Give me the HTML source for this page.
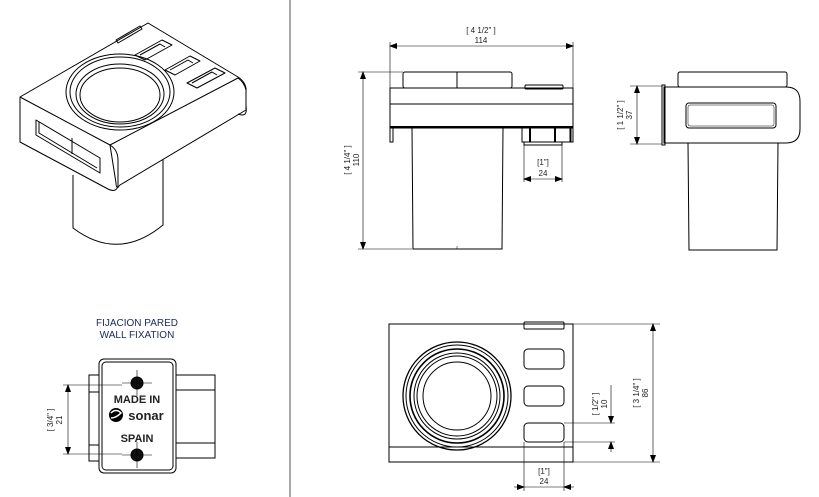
<!DOCTYPE html>
<html><head><meta charset="utf-8"><style>
html,body{margin:0;padding:0;background:#fff}
svg{display:block}
text{font-family:"Liberation Sans",sans-serif;fill:#222}
</style></head><body>
<svg width="819" height="497" viewBox="0 0 819 497" xmlns="http://www.w3.org/2000/svg">
<defs>
<marker id="a" markerWidth="8" markerHeight="6" refX="7" refY="3" orient="auto" markerUnits="userSpaceOnUse"><path d="M0,0 L8,3 L0,6 z" fill="#000"/></marker>
<marker id="b" markerWidth="8" markerHeight="6" refX="1" refY="3" orient="auto" markerUnits="userSpaceOnUse"><path d="M8,0 L0,3 L8,6 z" fill="#000"/></marker>
</defs>
<line x1="290" y1="0" x2="290" y2="497" stroke="#555" stroke-width="1"/>

<!-- ISO VIEW -->
<g fill="none" stroke="#000" stroke-width="1" stroke-linejoin="round">
<path d="M73,175 L73,228 Q118,262 163,225 L163,155" fill="#fff"/>
<path d="M20,97 L148,23 L238,77 Q247,83 246,92 L246,110 L120,185 Q116,190 116,183 L110,145 Z" fill="#fff"/>
<path d="M20,97 L20,142 L108,189 Q116,193 118,186"/>
<path d="M110,145 L238,78 Q244,82 246,90"/>
<path d="M110,145 Q118,150 118,160 L118,188"/>
<path d="M36,120 L36,135 L100,173 L100,158 Z"/>
<path d="M39,122 L39,133 L97,168"/>
<line x1="72" y1="138" x2="72" y2="154"/>
<ellipse cx="120" cy="92" rx="54" ry="38"/>
<ellipse cx="120" cy="92" rx="50" ry="35"/>
<ellipse cx="120" cy="94" rx="44" ry="30"/>
<ellipse cx="120" cy="95" rx="40" ry="27"/>
<path d="M116,40 L140,26 L142,29 L118,43 Z"/>
<path d="M135,55 L162,40 L172,45 L145,60 Z"/><path d="M140,55 L160,44 L165,47"/>
<path d="M165,70 L190,56 L200,61 L175,75 Z"/><path d="M170,70 L188,60 L193,63"/>
<path d="M187,83 L215,68 L225,73 L197,88 Z"/><path d="M192,83 L212,72 L217,75"/>
<path d="M238,114 Q248,118 246,106"/>
</g>

<!-- FRONT VIEW -->
<g fill="none" stroke="#000" stroke-width="1">
<rect x="403" y="72" width="109" height="16" rx="2"/>
<line x1="457" y1="72" x2="457" y2="88"/>
<rect x="525" y="85" width="38" height="4" rx="1"/>
<rect x="390" y="88" width="183" height="40"/>
<line x1="390" y1="104" x2="573" y2="104"/>
<line x1="390" y1="127" x2="573" y2="127" stroke-width="2"/>
<rect x="390" y="128" width="3" height="14"/>
<rect x="570" y="128" width="3" height="14"/>
<path d="M522,128 L522,142 L571,142 L571,128"/>
<line x1="530" y1="128" x2="530" y2="142" stroke-width="2"/>
<line x1="555" y1="128" x2="555" y2="142" stroke-width="2"/>
<rect x="524" y="142" width="38" height="3"/>
<path d="M412,128 L413,249 L502,249 L503,128"/>
<line x1="457" y1="246" x2="457" y2="249" stroke-width="0.5"/>
</g>
<g stroke="#000" stroke-width="0.6" fill="none">
<line x1="390" y1="46" x2="573" y2="46" marker-start="url(#b)" marker-end="url(#a)"/>
<line x1="390" y1="42" x2="390" y2="88"/><line x1="573" y1="42" x2="573" y2="88"/>
<line x1="363" y1="72" x2="363" y2="249" marker-start="url(#b)" marker-end="url(#a)"/>
<line x1="358" y1="72" x2="403" y2="72"/><line x1="358" y1="249" x2="412" y2="249"/>
<line x1="524" y1="179" x2="562" y2="179" marker-start="url(#b)" marker-end="url(#a)"/>
<line x1="524" y1="145" x2="524" y2="182"/><line x1="562" y1="145" x2="562" y2="182"/>
</g>
<g font-size="8" text-anchor="middle">
<text x="481" y="33">[ 4 1/2" ]</text><text x="481" y="43">114</text>
<text x="543" y="165">[1"]</text><text x="543" y="176">24</text>
<text transform="translate(350,160) rotate(-90)">[ 4 1/4" ]</text>
<text transform="translate(359,160) rotate(-90)">110</text>
</g>

<!-- SIDE VIEW -->
<g fill="none" stroke="#000" stroke-width="1">
<rect x="678" y="72" width="109" height="15" rx="2"/>
<path d="M664,87 L786,87 Q800,87 800,101 L800,129 Q800,143 786,143 L664,143 Z"/>
<rect x="662" y="85" width="3" height="60"/>
<rect x="686" y="103" width="90" height="25" rx="3"/>
<rect x="688" y="105" width="86" height="21" rx="2" stroke-width="0.5"/>
<path d="M688,143 L689,250 L777,250 L778,143"/>
</g>
<g stroke="#000" stroke-width="0.6" fill="none">
<line x1="637" y1="86" x2="637" y2="144" marker-start="url(#b)" marker-end="url(#a)"/>
<line x1="630" y1="86" x2="662" y2="86"/><line x1="630" y1="144" x2="662" y2="144"/>
</g>
<g font-size="8" text-anchor="middle">
<text transform="translate(623,115) rotate(-90)">[ 1 1/2" ]</text>
<text transform="translate(632,115) rotate(-90)">37</text>
</g>

<!-- WALL FIXATION -->
<text x="137" y="326" font-size="10" text-anchor="middle" style="fill:#1a2a5a">FIJACION PARED</text>
<text x="137" y="338" font-size="10" text-anchor="middle" style="fill:#1a2a5a">WALL FIXATION</text>
<g fill="none" stroke="#000" stroke-width="1">
<rect x="89" y="375" width="10" height="86"/>
<line x1="89" y1="392" x2="99" y2="392"/><line x1="89" y1="445" x2="99" y2="445"/>
<rect x="176" y="375" width="39" height="83"/>
<line x1="176" y1="390" x2="215" y2="390"/><line x1="176" y1="443" x2="215" y2="443"/>
<rect x="99" y="359" width="77" height="114" rx="5" fill="#fff"/>
<rect x="102" y="362" width="71" height="108" rx="4"/>
<circle cx="137" cy="383" r="6" fill="#111"/><circle cx="137" cy="455" r="6" fill="#111"/>
<line x1="137" y1="370" x2="137" y2="396" stroke-width="0.6"/>
<line x1="122" y1="383" x2="152" y2="383" stroke-width="0.6"/>
<line x1="137" y1="442" x2="137" y2="468" stroke-width="0.6"/>
<line x1="122" y1="455" x2="152" y2="455" stroke-width="0.6"/>
</g>
<g font-weight="bold" text-anchor="middle">
<text x="137" y="403" font-size="11">MADE IN</text>
<text x="146" y="420" font-size="13">sonar</text>
<text x="137" y="442" font-size="11">SPAIN</text>
</g>
<circle cx="116" cy="415" r="7" fill="#000"/>
<path d="M111,413 Q116,408 121,413 Q116,418 111,418" stroke="#fff" stroke-width="1.5" fill="none"/>
<g stroke="#000" stroke-width="0.6" fill="none">
<line x1="68" y1="385" x2="68" y2="454" marker-start="url(#b)" marker-end="url(#a)"/>
<line x1="63" y1="385" x2="122" y2="385"/><line x1="63" y1="454" x2="122" y2="454"/>
</g>
<g font-size="8" text-anchor="middle">
<text transform="translate(53,420) rotate(-90)">[ 3/4" ]</text>
<text transform="translate(62,420) rotate(-90)">21</text>
</g>

<!-- TOP VIEW -->
<g fill="none" stroke="#000" stroke-width="1">
<rect x="389" y="324" width="184" height="138"/>
<line x1="389" y1="447" x2="573" y2="447"/>
<rect x="524" y="322" width="40" height="7" rx="1"/>
<rect x="524" y="349" width="40" height="20" rx="4"/>
<rect x="524" y="386" width="40" height="20" rx="4"/>
<rect x="524" y="423" width="40" height="19" rx="4"/>
<circle cx="457" cy="396" r="54" stroke-width="1.3"/>
<circle cx="457" cy="396" r="51"/>
<circle cx="457" cy="396" r="47" stroke-width="1.6"/>
<circle cx="457" cy="396" r="43"/>
<circle cx="457" cy="396" r="40"/>
<circle cx="457" cy="396" r="34"/>
</g>
<g stroke="#000" stroke-width="0.6" fill="none">
<line x1="653" y1="324" x2="653" y2="462" marker-start="url(#b)" marker-end="url(#a)"/>
<line x1="573" y1="324" x2="660" y2="324"/><line x1="573" y1="462" x2="660" y2="462"/>
<line x1="611" y1="385" x2="611" y2="423" marker-end="url(#a)"/>
<line x1="611" y1="452" x2="611" y2="442" marker-end="url(#a)"/>
<line x1="564" y1="423" x2="615" y2="423"/><line x1="564" y1="442" x2="615" y2="442"/>
<line x1="514" y1="487" x2="524" y2="487" marker-end="url(#a)"/>
<line x1="574" y1="487" x2="564" y2="487" marker-end="url(#a)"/>
<line x1="524" y1="487" x2="564" y2="487"/>
<line x1="524" y1="442" x2="524" y2="491"/><line x1="564" y1="442" x2="564" y2="491"/>
</g>
<g font-size="8" text-anchor="middle">
<text x="544" y="474">[1"]</text><text x="544" y="484">24</text>
<text transform="translate(598,404) rotate(-90)">[ 1/2" ]</text>
<text transform="translate(607,404) rotate(-90)">10</text>
<text transform="translate(639,393) rotate(-90)">[ 3 1/4" ]</text>
<text transform="translate(648,393) rotate(-90)">86</text>
</g>
</svg>
</body></html>
